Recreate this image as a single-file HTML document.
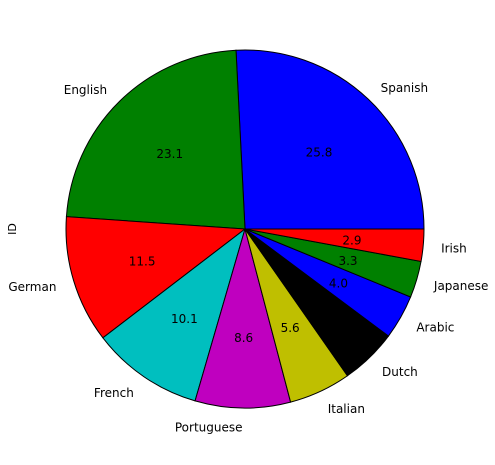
<!DOCTYPE html>
<html><head><meta charset="utf-8"><style>
body{margin:0;background:#fff;}
svg text{font-family:"DejaVu Sans","Liberation Sans",sans-serif;font-size:12px;}
</style></head><body>
<svg id="chart" width="495" height="460" xmlns="http://www.w3.org/2000/svg">
<text x="0" y="0" transform="translate(16,229) rotate(-90)" text-anchor="middle" style="font-size:11px">ID</text>
</svg>
<script>
const categories = ["Spanish","English","German","French","Portuguese","Italian","Dutch","Arabic","Japanese","Irish"];
const values = [25.8,23.1,11.5,10.1,8.6,5.6,5.1,4.0,3.3,2.9];
const pctLabels = ["25.8","23.1","11.5","10.1","8.6","5.6","5.1","4.0","3.3","2.9"];
const colors = ["#0000ff","#008000","#ff0000","#00bfbf","#bf00bf","#bfbf00","#000000","#0000ff","#008000","#ff0000"];
const svg = document.getElementById('chart');
const NS = "http://www.w3.org/2000/svg";
const cx = 245, cy = 229, R = 179;
const total = values.reduce((a,b)=>a+b,0);
function pt(r, a){ return [cx + r*Math.cos(a), cy - r*Math.sin(a)]; }
let start = 0;
values.forEach((v,i)=>{
  const sweep = v/total*2*Math.PI;
  const end = start + sweep;
  const [x1,y1] = pt(R,start), [x2,y2] = pt(R,end);
  const large = sweep > Math.PI ? 1 : 0;
  const p = document.createElementNS(NS,'path');
  p.setAttribute('d',`M${cx},${cy} L${x1},${y1} A${R},${R} 0 ${large} 0 ${x2},${y2} Z`);
  p.setAttribute('fill',colors[i]);
  p.setAttribute('stroke','#000');
  p.setAttribute('stroke-width','1');
  
  
  svg.appendChild(p);
  const mid = (start+end)/2;
  const [lx,ly] = pt(R*1.1, mid);
  const t = document.createElementNS(NS,'text');
  t.setAttribute('x',lx); t.setAttribute('y',ly+5.5);
  t.setAttribute('text-anchor', Math.cos(mid) >= 0 ? 'start' : 'end');
  t.textContent = categories[i];
  
  
  svg.appendChild(t);
  const [px,py] = pt(R*0.6, mid);
  const t2 = document.createElementNS(NS,'text');
  t2.setAttribute('x',px); t2.setAttribute('y',py+5.5);
  t2.setAttribute('text-anchor','middle');
  t2.textContent = pctLabels[i];
  
  
  svg.appendChild(t2);
  start = end;
});
</script>
</body></html>
